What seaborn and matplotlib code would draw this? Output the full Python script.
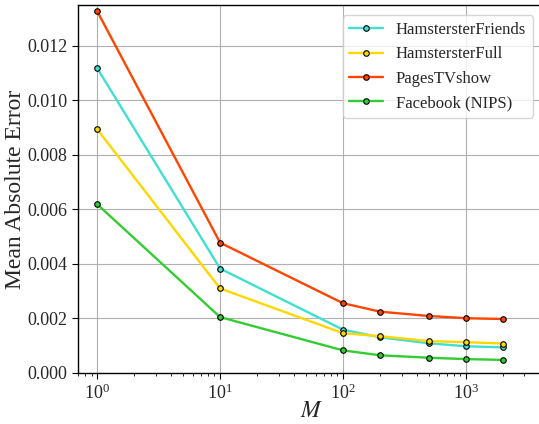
import numpy as np
import pandas as pd
import seaborn as sns
from matplotlib import pyplot as plt

M = [1, 10, 100, 200, 500, 1000, 2000]
friends = [0.01118, 0.00383, 0.00159, 0.00131, 0.00109, 0.00098, 0.00094]
full = [0.00894, 0.00310, 0.00146, 0.00135, 0.00117, 0.00113, 0.00108]
pages = [0.01327, 0.00478, 0.00256, 0.00225, 0.00209, 0.00201, 0.00198]
facebook = [0.00619, 0.00205, 0.00083, 0.00065, 0.00056, 0.00051, 0.00048]

names = ['HamstersterFriends', 'HamstersterFull', 'PagesTVshow', 'Facebook (NIPS)']
colors = ['#40E0D0', '#FFD700', '#FF4500', '#32CD32']

df = pd.DataFrame({'M': M * 4,
                   'mae': friends + full + pages + facebook,
                   'dataset': np.repeat(names, len(M))})

sns.set_style('whitegrid')
plt.rcParams['font.family'] = ['Liberation Serif', 'DejaVu Serif']
plt.rcParams['mathtext.fontset'] = 'stix'

fig = plt.figure(figsize=(5.39, 4.24), dpi=100)
ax = fig.add_axes([0.145, 0.1203, 0.866, 0.868])
sns.lineplot(data=df, x='M', y='mae', hue='dataset', palette=colors,
             marker='o', markersize=4, markeredgecolor='black',
             markeredgewidth=0.8, linewidth=1.7, ax=ax)
ax.set_xscale('log')
ax.set_xlim(0.7, 4400)
ax.set_ylim(0, 0.0135)
ax.set_yticks(np.arange(0, 0.0121, 0.002))
ax.yaxis.set_major_formatter(plt.FormatStrFormatter('%.3f'))
ax.grid(True, which='major', color='#b0b0b0', linewidth=0.8)
ax.tick_params(axis='both', which='major', labelsize=13, direction='out',
               length=4, width=0.8, bottom=True, left=True, color='black')
ax.tick_params(axis='x', which='minor', direction='out', length=2,
               width=0.6, bottom=True, color='black')
for s in ax.spines.values():
    s.set_color('black')
    s.set_linewidth(1.0)
ax.spines['right'].set_visible(False)
ax.set_xlabel('$M$', fontsize=17, labelpad=-1)
ax.set_ylabel('Mean Absolute Error', fontsize=17, labelpad=1)
leg = ax.legend(loc='upper right', fontsize=12, frameon=True,
                bbox_to_anchor=(0.985, 0.985), borderaxespad=0.3)
leg.get_frame().set_edgecolor('#cccccc')
fig.savefig('out.png', dpi=100)
